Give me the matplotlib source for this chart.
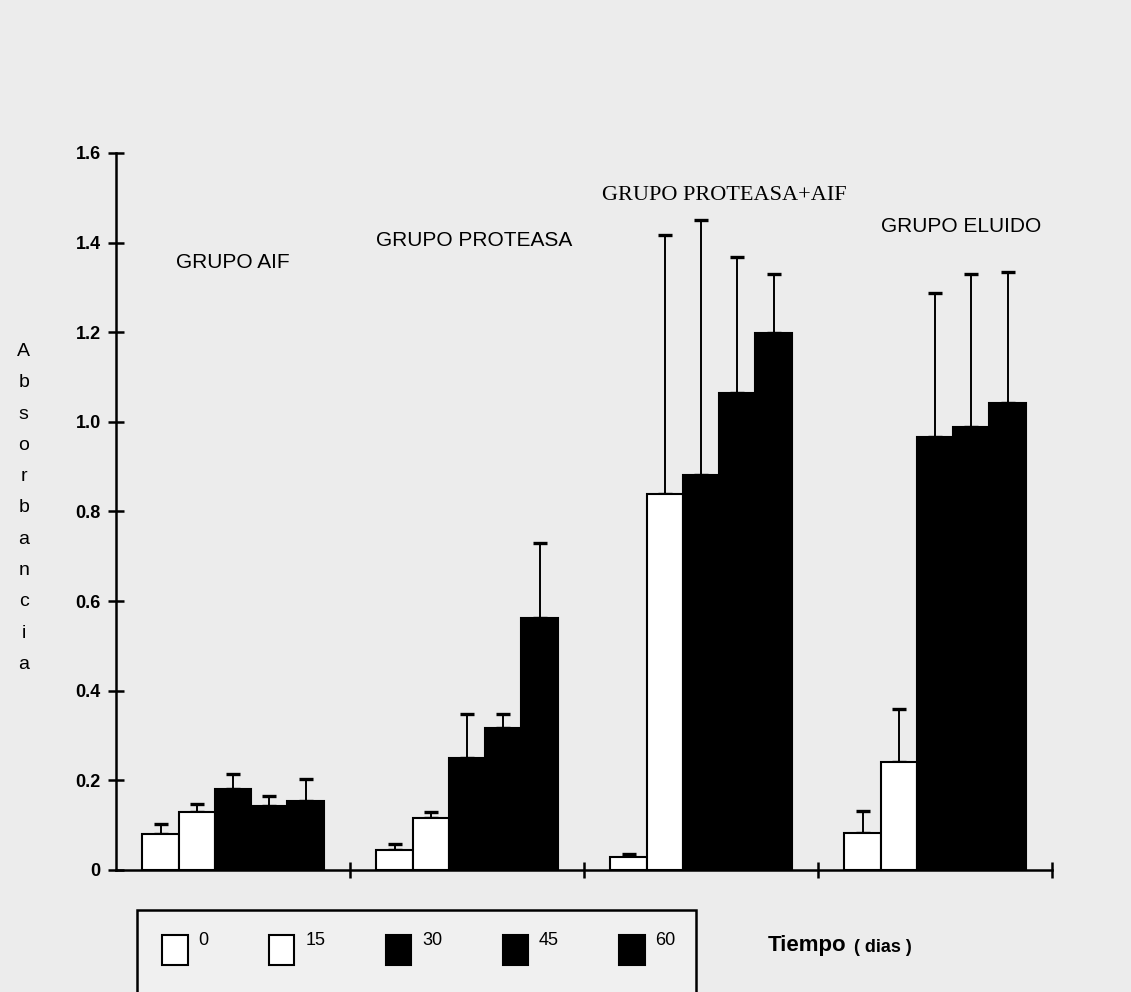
import matplotlib
matplotlib.use("Agg")
import matplotlib.pyplot as plt
from matplotlib.patches import Rectangle
from matplotlib.transforms import ScaledTranslation
import numpy as np

plt.rcParams['font.family'] = ['Liberation Sans', 'DejaVu Sans']

# data
groups = ['GRUPO AIF', 'GRUPO PROTEASA', 'GRUPO PROTEASA+AIF', 'GRUPO ELUIDO']
days = ['0', '15', '30', '45', '60']

aif = [0.080, 0.129, 0.180, 0.143, 0.154]
aif_err = [0.022, 0.019, 0.035, 0.021, 0.048]
proteasa = [0.045, 0.116, 0.249, 0.316, 0.563]
proteasa_err = [0.013, 0.014, 0.100, 0.033, 0.167]
prot_aif = [0.029, 0.838, 0.882, 1.064, 1.198]
prot_aif_err = [0.007, 0.578, 0.568, 0.304, 0.133]
eluido = [0.082, 0.240, 0.967, 0.988, 1.043]
eluido_err = [0.050, 0.119, 0.320, 0.341, 0.291]

values = np.array([aif, proteasa, prot_aif, eluido])
errors = np.array([aif_err, proteasa_err, prot_aif_err, eluido_err])
fills = ['white', 'white', 'black', 'black', 'black']

bg = '#ececec'
fig = plt.figure(figsize=(11.31, 9.92), dpi=100, facecolor=bg)
ax = fig.add_axes([0.1026, 0.123, 0.8276, 0.7228])
ax.set_facecolor(bg)

x = np.arange(len(groups))
w = 0.155
handles = []
for k, d in enumerate(days):
    pos = x + (k - 2) * w
    b = ax.bar(pos, values[:, k], width=w, color=fills[k], edgecolor='black',
               linewidth=1.5, label=d, zorder=3)
    ax.errorbar(pos, values[:, k], yerr=[np.zeros(len(groups)), errors[:, k]],
                fmt='none', ecolor='black', elinewidth=1.4, capsize=5,
                capthick=2.4, zorder=2)
    handles.append(b)

# group titles
title_xy = [(0.0, 1.355), (1.03, 1.405), (2.1, 1.505), (3.11, 1.435)]
for g, (tx, ty) in zip(groups, title_xy):
    fam = ['Liberation Serif'] if '+' in g else ['Liberation Sans']
    size = 16 if '+' in g else 15
    ax.text(tx, ty, g, ha='center', va='center', fontsize=size, family=fam)

ax.set_xlim(-0.5, 3.5)
ax.set_ylim(0, 1.6)
ax.set_xticks(x + 0.5)
ax.set_xticklabels([])
ax.set_yticks(np.arange(0, 1.61, 0.2))
ax.set_yticklabels(['0'] + ['%.1f' % v for v in np.arange(0.2, 1.61, 0.2)],
                   fontweight='bold')
ax.tick_params(axis='both', direction='inout', length=12, width=1.8,
               labelsize=13)
ax.tick_params(axis='y', pad=5)
for s in ['top', 'right']:
    ax.spines[s].set_visible(False)
for s in ['left', 'bottom']:
    ax.spines[s].set_linewidth(1.8)

# vertical y label
fig.text(0.021, 0.488, '\n'.join('Absorbancia'), ha='center', va='center',
         fontsize=14, linespacing=2.1)

# legend box
fig.patches.append(Rectangle((137 / 1131, -0.05), (696 - 137) / 1131,
                             1 - 910 / 992 + 0.05, transform=fig.transFigure,
                             facecolor='#f0f0f0', edgecolor='black',
                             linewidth=1.8, zorder=0))
leg = fig.legend(handles, days, ncol=5, loc='center left',
                 bbox_to_anchor=(146 / 1131, 1 - 950 / 992, (692 - 146) / 1131, 0.0),
                 mode='expand', frameon=False, fontsize=13, handlelength=1.4,
                 handleheight=2.2, handletextpad=0.6)
for t in leg.get_texts():
    t.set_transform(t.get_transform() +
                    ScaledTranslation(0, 8 / 72, fig.dpi_scale_trans))

t1 = fig.text(768 / 1131, 1 - 945 / 992, 'Tiempo', ha='left', va='center',
              fontsize=16, fontweight='bold')
ax.annotate('( dias )', xy=(1, 0.0), xycoords=t1, xytext=(5, 0),
            textcoords='offset points', va='bottom', ha='left',
            fontsize=13, fontweight='bold', annotation_clip=False)

fig.savefig('out.png', dpi=100, facecolor=bg)
